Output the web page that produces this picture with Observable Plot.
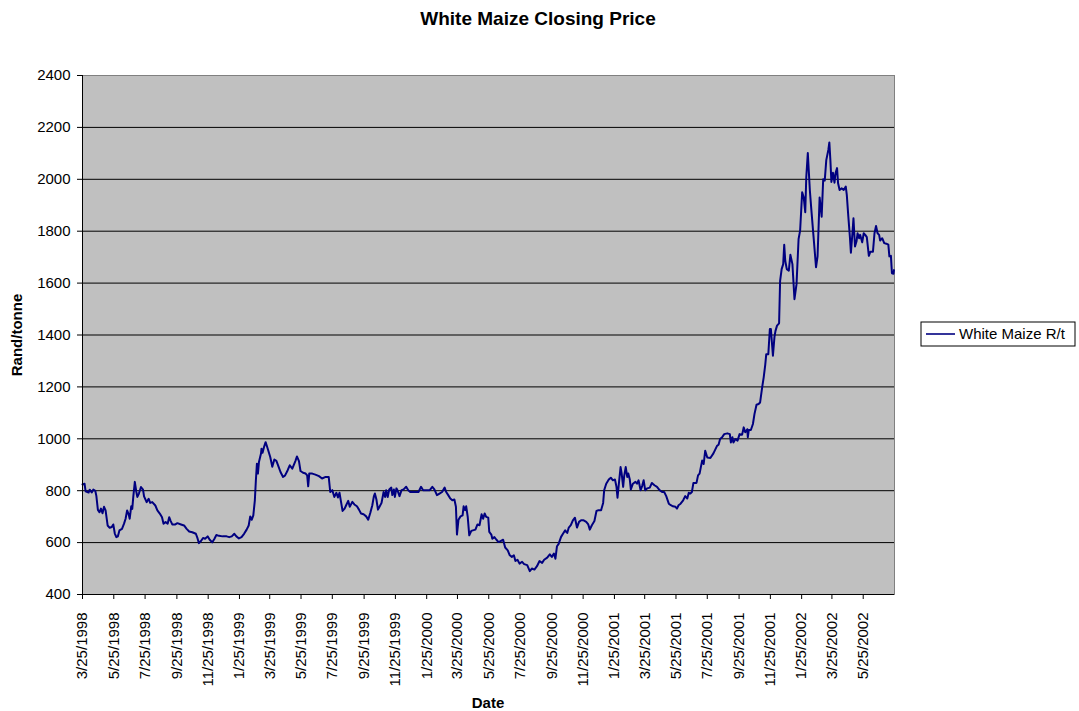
<!DOCTYPE html>
<html><head><meta charset="utf-8">
<script src="https://cdn.jsdelivr.net/npm/d3@7"></script>
<script src="https://cdn.jsdelivr.net/npm/@observablehq/plot@0.6"></script>
<style>body{margin:0;background:#fff} svg{display:block}</style>
</head><body><div id="chart"></div>
<script>
const prices1998 = [["1998-03-25",824],["1998-03-29",827],["1998-03-31",798],["1998-04-06",793],["1998-04-08",804],["1998-04-12",793],["1998-04-15",804],["1998-04-19",799],["1998-04-21",780],["1998-04-24",726],["1998-04-27",717],["1998-04-30",731],["1998-05-03",713],["1998-05-06",738],["1998-05-09",724],["1998-05-13",666],["1998-05-17",657],["1998-05-21",660],["1998-05-24",670],["1998-05-27",635],["1998-05-30",621],["1998-06-02",624],["1998-06-05",647],["1998-06-10",653],["1998-06-14",673],["1998-06-17",692],["1998-06-20",724],["1998-06-23",709],["1998-06-25",692],["1998-06-28",740],["1998-06-30",730],["1998-07-02",776],["1998-07-05",834],["1998-07-08",795],["1998-07-10",776],["1998-07-13",789],["1998-07-17",814],["1998-07-21",804],["1998-07-23",778],["1998-07-28",756],["1998-08-01",769],["1998-08-04",753],["1998-08-08",756],["1998-08-14",743],["1998-08-18",724],["1998-08-23",711],["1998-08-27",698],["1998-08-30",673],["1998-09-03",679],["1998-09-07",673],["1998-09-10",698],["1998-09-13",683],["1998-09-16",670],["1998-09-22",670],["1998-09-26",675],["1998-10-03",670],["1998-10-09",666],["1998-10-14",653],["1998-10-19",643],["1998-10-25",640],["1998-11-01",634],["1998-11-04",618],["1998-11-07",598],["1998-11-11",606],["1998-11-15",618],["1998-11-19",615],["1998-11-24",624],["1998-11-28",611],["1998-12-03",601],["1998-12-07",614],["1998-12-11",629],["1998-12-16",626],["1998-12-23",624],["1998-12-31",624]];
const prices1999 = [["1999-01-05",621],["1999-01-10",624],["1999-01-15",634],["1999-01-19",624],["1999-01-24",616],["1999-01-29",621],["1999-02-03",634],["1999-02-08",650],["1999-02-12",666],["1999-02-15",701],["1999-02-18",688],["1999-02-21",705],["1999-02-24",763],["1999-02-26",840],["1999-02-28",904],["1999-03-02",866],["1999-03-04",911],["1999-03-08",943],["1999-03-09",962],["1999-03-11",946],["1999-03-14",969],["1999-03-17",987],["1999-03-19",975],["1999-03-22",956],["1999-03-26",930],["1999-03-30",892],["1999-04-03",920],["1999-04-07",915],["1999-04-11",894],["1999-04-15",872],["1999-04-20",853],["1999-04-24",859],["1999-04-29",879],["1999-05-03",898],["1999-05-08",885],["1999-05-14",914],["1999-05-17",932],["1999-05-21",914],["1999-05-24",876],["1999-05-29",869],["1999-06-03",866],["1999-06-06",859],["1999-06-08",817],["1999-06-10",866],["1999-06-16",866],["1999-06-22",862],["1999-06-29",856],["1999-07-05",847],["1999-07-12",853],["1999-07-18",853],["1999-07-21",795],["1999-07-25",802],["1999-07-29",776],["1999-08-02",792],["1999-08-05",774],["1999-08-08",792],["1999-08-11",757],["1999-08-14",722],["1999-08-18",731],["1999-08-21",744],["1999-08-25",761],["1999-08-28",738],["1999-09-02",757],["1999-09-06",747],["1999-09-11",740],["1999-09-15",727],["1999-09-19",712],["1999-09-24",709],["1999-09-29",701],["1999-10-03",688],["1999-10-07",714],["1999-10-11",744],["1999-10-14",778],["1999-10-16",789],["1999-10-19",766],["1999-10-22",727],["1999-10-25",738],["1999-10-29",753],["1999-11-02",795],["1999-11-05",776],["1999-11-07",802],["1999-11-10",776],["1999-11-13",805],["1999-11-17",812],["1999-11-19",783],["1999-11-22",805],["1999-11-24",776],["1999-11-27",809],["1999-11-29",802],["1999-12-03",779],["1999-12-07",802],["1999-12-11",805],["1999-12-16",815],["1999-12-20",802],["1999-12-24",795]];
const prices2000 = [["2000-01-01",795],["2000-01-09",795],["2000-01-14",815],["2000-01-18",802],["2000-01-24",802],["2000-01-31",802],["2000-02-05",815],["2000-02-09",805],["2000-02-14",783],["2000-02-19",789],["2000-02-24",795],["2000-02-29",812],["2000-03-03",795],["2000-03-07",783],["2000-03-11",770],["2000-03-15",763],["2000-03-19",766],["2000-03-22",738],["2000-03-24",631],["2000-03-27",688],["2000-03-31",701],["2000-04-04",705],["2000-04-06",740],["2000-04-09",725],["2000-04-11",740],["2000-04-14",699],["2000-04-17",628],["2000-04-21",645],["2000-04-24",647],["2000-04-29",650],["2000-05-03",670],["2000-05-07",667],["2000-05-11",709],["2000-05-14",692],["2000-05-17",712],["2000-05-20",699],["2000-05-24",696],["2000-05-26",641],["2000-05-30",631],["2000-06-01",615],["2000-06-05",621],["2000-06-09",611],["2000-06-13",602],["2000-06-17",606],["2000-06-22",611],["2000-06-26",581],["2000-07-01",570],["2000-07-05",551],["2000-07-09",545],["2000-07-13",551],["2000-07-16",529],["2000-07-20",534],["2000-07-24",519],["2000-07-29",526],["2000-08-02",517],["2000-08-08",513],["2000-08-13",490],["2000-08-17",500],["2000-08-22",496],["2000-08-27",509],["2000-09-01",529],["2000-09-06",522],["2000-09-10",534],["2000-09-16",542],["2000-09-21",555],["2000-09-25",545],["2000-09-29",558],["2000-10-02",538],["2000-10-05",586],["2000-10-08",594],["2000-10-13",622],["2000-10-17",635],["2000-10-21",647],["2000-10-25",637],["2000-10-28",658],["2000-11-01",667],["2000-11-05",686],["2000-11-09",696],["2000-11-13",658],["2000-11-17",680],["2000-11-21",686],["2000-11-26",686],["2000-12-01",680],["2000-12-05",670],["2000-12-08",650],["2000-12-12",667],["2000-12-17",683],["2000-12-21",722],["2000-12-25",725],["2000-12-30",725]];
const prices2001 = [["2001-01-03",753],["2001-01-05",802],["2001-01-09",827],["2001-01-14",843],["2001-01-18",850],["2001-01-22",840],["2001-01-26",843],["2001-01-29",815],["2001-01-31",773],["2001-02-03",834],["2001-02-06",891],["2001-02-08",868],["2001-02-11",815],["2001-02-13",856],["2001-02-16",891],["2001-02-19",853],["2001-02-21",866],["2001-02-24",843],["2001-02-26",805],["2001-03-02",827],["2001-03-07",834],["2001-03-10",827],["2001-03-13",840],["2001-03-17",802],["2001-03-20",818],["2001-03-23",840],["2001-03-26",802],["2001-03-30",809],["2001-04-04",812],["2001-04-08",830],["2001-04-13",821],["2001-04-18",815],["2001-04-23",802],["2001-04-28",795],["2001-05-02",795],["2001-05-06",779],["2001-05-11",750],["2001-05-15",744],["2001-05-19",740],["2001-05-24",738],["2001-05-27",731],["2001-05-30",744],["2001-06-03",750],["2001-06-08",763],["2001-06-12",779],["2001-06-16",770],["2001-06-19",792],["2001-06-22",789],["2001-06-25",795],["2001-06-28",830],["2001-07-04",830],["2001-07-07",859],["2001-07-10",866],["2001-07-15",916],["2001-07-18",903],["2001-07-21",954],["2001-07-25",928],["2001-07-31",926],["2001-08-06",944],["2001-08-13",973],["2001-08-16",977],["2001-08-19",999],["2001-08-23",1006],["2001-08-27",1018],["2001-09-02",1021],["2001-09-07",1018],["2001-09-09",986],["2001-09-12",1006],["2001-09-14",986],["2001-09-18",999],["2001-09-22",993],["2001-09-26",1018],["2001-10-01",1016],["2001-10-04",1044],["2001-10-07",1025],["2001-10-11",1037],["2001-10-12",1006],["2001-10-14",1034],["2001-10-18",1034],["2001-10-22",1057],["2001-10-25",1095],["2001-10-29",1131],["2001-11-02",1134],["2001-11-05",1140],["2001-11-09",1198],["2001-11-12",1237],["2001-11-15",1285],["2001-11-17",1326],["2001-11-21",1326],["2001-11-24",1423],["2001-11-26",1423],["2001-11-30",1320],["2001-12-03",1393],["2001-12-05",1416],["2001-12-08",1436],["2001-12-12",1445],["2001-12-14",1609],["2001-12-17",1654],["2001-12-20",1673],["2001-12-22",1748],["2001-12-24",1686],["2001-12-27",1654],["2001-12-31",1648]];
const prices2002 = [["2002-01-03",1709],["2002-01-07",1673],["2002-01-11",1538],["2002-01-15",1596],["2002-01-19",1770],["2002-01-22",1802],["2002-01-26",1950],["2002-01-29",1931],["2002-02-01",1873],["2002-02-03",2008],["2002-02-06",2101],["2002-02-10",1957],["2002-02-13",1880],["2002-02-17",1783],["2002-02-22",1661],["2002-02-25",1703],["2002-03-01",1930],["2002-03-05",1856],["2002-03-08",2000],["2002-03-11",1995],["2002-03-14",2074],["2002-03-18",2113],["2002-03-20",2142],["2002-03-22",2074],["2002-03-24",1990],["2002-03-27",2025],["2002-03-30",1987],["2002-04-01",2023],["2002-04-04",2043],["2002-04-06",1985],["2002-04-09",1959],["2002-04-13",1965],["2002-04-17",1959],["2002-04-21",1972],["2002-04-23",1940],["2002-04-26",1856],["2002-04-29",1779],["2002-05-01",1717],["2002-05-04",1792],["2002-05-06",1850],["2002-05-09",1741],["2002-05-12",1761],["2002-05-14",1792],["2002-05-17",1773],["2002-05-19",1786],["2002-05-23",1757],["2002-05-26",1792],["2002-05-29",1786],["2002-06-01",1777],["2002-06-05",1705],["2002-06-08",1721],["2002-06-13",1721],["2002-06-16",1792],["2002-06-19",1820],["2002-06-22",1792],["2002-06-25",1786],["2002-06-27",1764],["2002-07-01",1773],["2002-07-05",1754],["2002-07-09",1752],["2002-07-13",1748],["2002-07-15",1703],["2002-07-18",1705],["2002-07-20",1638],["2002-07-23",1636],["2002-07-24",1650]];

const xTickLabels = ["3/25/1998","5/25/1998","7/25/1998","9/25/1998","11/25/1998","1/25/1999","3/25/1999","5/25/1999","7/25/1999","9/25/1999","11/25/1999","1/25/2000","3/25/2000","5/25/2000","7/25/2000","9/25/2000","11/25/2000","1/25/2001","3/25/2001","5/25/2001","7/25/2001","9/25/2001","11/25/2001","1/25/2002","3/25/2002","5/25/2002"];
const xEndLabel = "7/25/2002";
const yTicks = [400,600,800,1000,1200,1400,1600,1800,2000,2200,2400];

const title = "White Maize Closing Price";
const xTitle = "Date";
const yTitle = "Rand/tonne";
const seriesName = "White Maize R/t";

const parse = d3.utcParse("%Y-%m-%d");
const parseTick = d3.utcParse("%m/%d/%Y");
const data = [...prices1998, ...prices1999, ...prices2000, ...prices2001, ...prices2002]
  .map(([d, v]) => ({date: parse(d), price: v}));
const xTickDates = xTickLabels.map(parseTick);
const xStart = xTickDates[0];
const xEnd = parseTick(xEndLabel);
const fmt = d => `${d.getUTCMonth() + 1}/${d.getUTCDate()}/${d.getUTCFullYear()}`;

const FONT = '"Liberation Sans", Arial, sans-serif';
const W = 1079, H = 711, ML = 82, MR = 185, MT = 75, MB = 117;

const chart = Plot.plot({
  width: W, height: H,
  marginLeft: ML, marginRight: MR, marginTop: MT, marginBottom: MB,
  style: {fontFamily: FONT, fontSize: "15px", color: "#000", background: "#fff", overflow: "visible"},
  x: {type: "utc", domain: [xStart, xEnd]},
  y: {domain: [400, 2400]},
  marks: [
    Plot.frame({fill: "#c0c0c0", stroke: "#808080"}),
    Plot.ruleY(yTicks.filter(v => v > 400 && v < 2400), {stroke: "#000", strokeWidth: 1}),
    Plot.line(data, {x: "date", y: "price", stroke: "#000080", strokeWidth: 2}),
    Plot.ruleY([400], {stroke: "#000"}),
    Plot.ruleX([xStart], {stroke: "#000"}),
    Plot.axisY({ticks: yTicks, tickSize: 5, tickPadding: 7, label: null, tickFormat: d => String(d)}),
    Plot.axisX({ticks: xTickDates, tickFormat: fmt, tickRotate: -90, tickSize: 5, tickPadding: 13, label: null})
  ]
});

const svg = d3.select(chart);
svg.append("text").attr("x", 538).attr("y", 25).attr("text-anchor", "middle")
  .attr("font-family", FONT).attr("font-weight", "bold").attr("font-size", 19).attr("fill", "#000").text(title);
svg.append("text").attr("transform", "translate(22,335) rotate(-90)").attr("text-anchor", "middle")
  .attr("font-family", FONT).attr("font-weight", "bold").attr("font-size", 15).attr("fill", "#000").text(yTitle);
svg.append("text").attr("x", 488).attr("y", 708).attr("text-anchor", "middle")
  .attr("font-family", FONT).attr("font-weight", "bold").attr("font-size", 15).attr("fill", "#000").text(xTitle);
const lg = svg.append("g").attr("text-anchor", "start");
lg.append("rect").attr("x", 921).attr("y", 322).attr("width", 154).attr("height", 24)
  .attr("fill", "#fff").attr("stroke", "#000");
lg.append("line").attr("x1", 926).attr("x2", 955).attr("y1", 334).attr("y2", 334)
  .attr("stroke", "#000080").attr("stroke-width", 1.6);
lg.append("text").attr("x", 959).attr("y", 334).attr("dy", "0.35em").attr("text-anchor", "start")
  .attr("font-family", FONT).attr("font-size", 15).attr("fill", "#000").text(seriesName);

document.getElementById("chart").appendChild(chart);
</script>
</body></html>
